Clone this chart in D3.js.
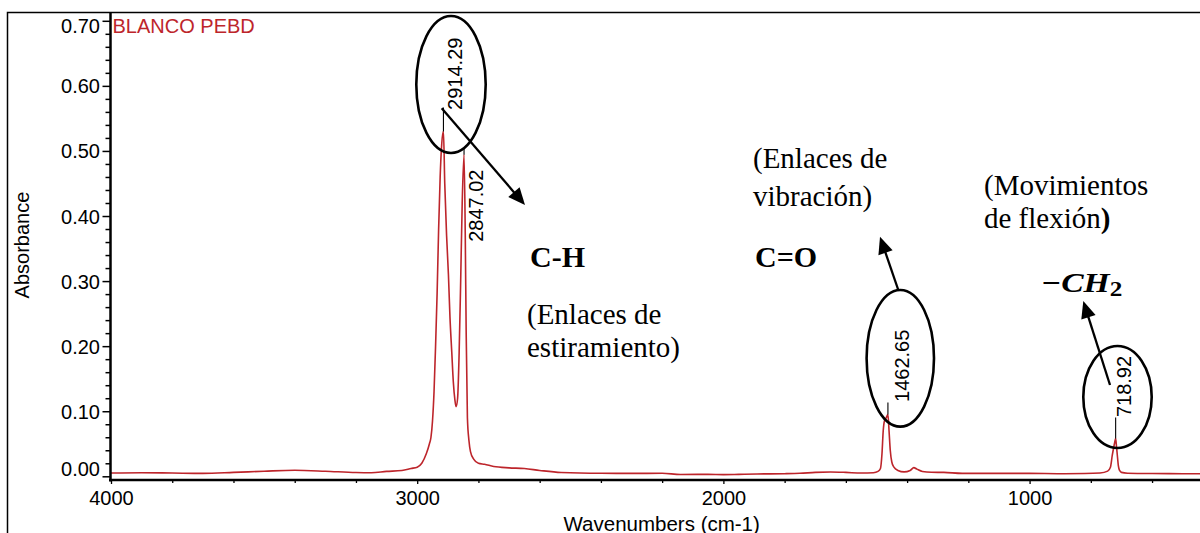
<!DOCTYPE html>
<html>
<head>
<meta charset="utf-8">
<script src="https://cdn.jsdelivr.net/npm/d3@7"></script>
<style>
  html, body { margin: 0; padding: 0; background: #fff; }
  svg { display: block; }
  .sans { font-family: "Liberation Sans", Arial, sans-serif; }
  .serif { font-family: "Liberation Serif", "Times New Roman", serif; }
</style>
</head>
<body>
<svg id="chart" width="1200" height="533"></svg>
<script>
// FT-IR absorbance spectrum of a low-density polyethylene blank (PEBD)

// Wavenumbers (cm-1), descending, and absorbance read at each of them
const wavenumbers = [
  4000, 3900, 3800, 3700, 3600, 3500, 3400, 3300, 3200, 3150, 3100, 3050, 3020, 3000,
  2985, 2970, 2960, 2955, 2950, 2945, 2940, 2935, 2930, 2925, 2920, 2914.29, 2910,
  2904, 2898, 2893, 2887, 2882, 2877, 2873, 2868, 2863, 2858, 2853, 2847.02, 2843,
  2840, 2836, 2831, 2826, 2815, 2800, 2780, 2750, 2700, 2650, 2600, 2530, 2400, 2300,
  2200, 2140, 2050, 2000, 1950, 1890, 1800, 1750, 1700, 1650, 1600, 1550, 1510, 1495,
  1487, 1482, 1478, 1474, 1468, 1462.65, 1459, 1455, 1450, 1443, 1430, 1410, 1390,
  1378, 1368, 1350, 1320, 1280, 1220, 1150, 1080, 1000, 900, 820, 770, 745, 736, 730,
  725, 722, 718.92, 716, 713, 710, 706, 700, 680, 600, 500, 400
];
const absorbance = [
  0.0050, 0.0055, 0.0050, 0.0045, 0.0060, 0.0078, 0.0092, 0.0078, 0.0058, 0.0055, 0.0075, 0.0090, 0.0120, 0.0140,
  0.020, 0.035, 0.050, 0.060, 0.085, 0.130, 0.200, 0.280, 0.380, 0.460, 0.510, 0.530, 0.450,
  0.370, 0.310, 0.245, 0.190, 0.145, 0.118, 0.107, 0.120, 0.190, 0.300, 0.420, 0.494, 0.370,
  0.220, 0.090, 0.055, 0.038, 0.026, 0.020, 0.0185, 0.0150, 0.0130, 0.0120, 0.0090, 0.0058, 0.0046, 0.0045,
  0.0046, 0.0028, 0.0030, 0.0026, 0.0030, 0.0036, 0.0040, 0.0046, 0.0060, 0.0066, 0.0060, 0.0050, 0.0055, 0.0075,
  0.012, 0.035, 0.070, 0.085, 0.090, 0.095, 0.070, 0.040, 0.022, 0.014, 0.009, 0.0068, 0.0090,
  0.0133, 0.0110, 0.0075, 0.0062, 0.0060, 0.0045, 0.0045, 0.0045, 0.0045, 0.0040, 0.0042, 0.0050, 0.0080, 0.0140, 0.0320,
  0.045, 0.052, 0.058, 0.045, 0.030, 0.016, 0.009, 0.006, 0.0048, 0.0042, 0.0040, 0.0040
];

// Labelled peaks
const peakPositions = [2914.29, 2847.02, 1462.65, 718.92];
const peakLabels = ["2914.29", "2847.02", "1462.65", "718.92"];

// Axis ticks
const xTickValues = [4000, 3000, 2000, 1000];
const xMinorTicks = [3800, 3600, 3400, 3200, 2800, 2600, 2400, 2200, 1800, 1600, 1400, 1200, 800, 600, 400];
const yTickValues = [0.00, 0.10, 0.20, 0.30, 0.40, 0.50, 0.60, 0.70];
const yMinorTicks = [0.02, 0.04, 0.06, 0.08, 0.12, 0.14, 0.16, 0.18, 0.22, 0.24, 0.26, 0.28,
                     0.32, 0.34, 0.36, 0.38, 0.42, 0.44, 0.46, 0.48, 0.52, 0.54, 0.56, 0.58,
                     0.62, 0.64, 0.66, 0.68];

const svg = d3.select("#chart");
const RED = "#bd252b";

const x = d3.scaleLinear().domain([4000, 400]).range([111, 1213.3]);
const y = d3.scaleLinear().domain([0, 0.7]).range([476.3, 20.8]);

const plotTop = 13, plotBottom = 480, plotLeft = 111;

// outer frame (runs past the right and bottom edges)
svg.append("rect")
  .attr("x", 7.5).attr("y", 12.5)
  .attr("width", 1300).attr("height", 600)
  .attr("fill", "none").attr("stroke", "#000").attr("stroke-width", 1.5);

// clip region for the spectrum
svg.append("defs").append("clipPath").attr("id", "plotClip")
  .append("rect").attr("x", plotLeft).attr("y", plotTop)
  .attr("width", 1200 - plotLeft).attr("height", plotBottom - plotTop);

// spectrum
const pts = wavenumbers.map((w, i) => [w, absorbance[i]]);
const line = d3.line().x(d => x(d[0])).y(d => y(d[1])).curve(d3.curveMonotoneX);
svg.append("path")
  .datum(pts)
  .attr("clip-path", "url(#plotClip)")
  .attr("d", line)
  .attr("fill", "none")
  .attr("stroke", RED)
  .attr("stroke-width", 1.6)
  .attr("stroke-linejoin", "round");

// y axis
const gyMinor = svg.append("g").attr("transform", "translate(110.5,0)")
  .call(d3.axisLeft(y).tickValues(yMinorTicks).tickSize(5).tickFormat(""));
const gy = svg.append("g").attr("transform", "translate(110.5,0)")
  .call(d3.axisLeft(y).tickValues(yTickValues).tickSize(8).tickPadding(2.5).tickFormat(d3.format(".2f")));
[gy, gyMinor].forEach(g => {
  g.select(".domain").remove();
  g.selectAll("line").attr("stroke", "#000").attr("stroke-width", 1.5);
});
gy.selectAll("text")
  .attr("class", "sans")
  .style("font-size", "20px")
  .attr("fill", "#000")
  .attr("dy", d => d === 0.7 ? "0.6em" : d === 0 ? "-0.05em" : "0.35em");

// x axis
const gxMinor = svg.append("g").attr("transform", `translate(0,${plotBottom})`)
  .call(d3.axisBottom(x).tickValues(xMinorTicks).tickSize(3).tickFormat(""));
const gx = svg.append("g").attr("transform", `translate(0,${plotBottom})`)
  .call(d3.axisBottom(x).tickValues(xTickValues).tickSize(4).tickPadding(7).tickFormat(d3.format("d")));
[gx, gxMinor].forEach(g => {
  g.select(".domain").remove();
  g.selectAll("line").attr("stroke", "#000").attr("stroke-width", 1.3);
});
gx.selectAll("text").attr("class", "sans").style("font-size", "20px").attr("fill", "#000");

// axis lines
svg.append("line").attr("x1", 110.5).attr("x2", 110.5).attr("y1", plotTop).attr("y2", plotBottom + 1.5)
  .attr("stroke", "#000").attr("stroke-width", 2.5);
svg.append("line").attr("x1", 109).attr("x2", 1200).attr("y1", plotBottom).attr("y2", plotBottom)
  .attr("stroke", "#000").attr("stroke-width", 2.5);

// axis titles and sample name
svg.append("text").attr("class", "sans")
  .attr("transform", "translate(28.5,245) rotate(-90)")
  .attr("text-anchor", "middle").style("font-size", "20px").text("Absorbance");
svg.append("text").attr("class", "sans")
  .attr("x", 661.7).attr("y", 530.5)
  .attr("text-anchor", "middle").style("font-size", "20.5px").text("Wavenumbers (cm-1)");
svg.append("text").attr("class", "sans")
  .attr("x", 112.5).attr("y", 32.5)
  .attr("fill", RED).style("font-size", "20px").text("BLANCO PEBD");

// peak markers and labels
const labelShift = [19, 19, 21.5, 15.5];   // horizontal offset of each label's baseline
const labelLift = [21.5, -87, 12.5, 21.5];  // gap between peak top and label start
const markLength = [24, 6, 12, 21];
peakPositions.forEach((p, i) => {
  const v = absorbance[wavenumbers.indexOf(p)];
  const px = x(p), py = y(v);
  svg.append("line")
    .attr("x1", px).attr("x2", px)
    .attr("y1", py).attr("y2", py - markLength[i])
    .attr("stroke", "#000").attr("stroke-width", 1.1);
  svg.append("text").attr("class", "sans")
    .attr("transform", `translate(${px + labelShift[i]},${py - labelLift[i]}) rotate(-90)`)
    .style("font-size", "20px").attr("fill", "#000")
    .text(peakLabels[i]);
});

// annotation ellipses
const ann = svg.append("g").attr("fill", "none").attr("stroke", "#000");
[[451, 84.5, 34.7, 68.5], [900.3, 358.3, 33.7, 68.3], [1117.5, 397, 34.2, 51]].forEach(e => {
  ann.append("ellipse").attr("cx", e[0]).attr("cy", e[1]).attr("rx", e[2]).attr("ry", e[3])
    .attr("stroke-width", 2.6);
});

// annotation arrows
function arrow(x1, y1, x2, y2) {
  const dx = x2 - x1, dy = y2 - y1, L = Math.hypot(dx, dy);
  const ux = dx / L, uy = dy / L, hl = 17, hw = 7.5;
  const bx = x2 - ux * hl, by = y2 - uy * hl;
  svg.append("line")
    .attr("x1", x1).attr("y1", y1).attr("x2", bx + ux * 2).attr("y2", by + uy * 2)
    .attr("stroke", "#000").attr("stroke-width", 2.3);
  svg.append("path")
    .attr("d", `M${x2},${y2}L${bx - uy * hw},${by + ux * hw}L${bx + uy * hw},${by - ux * hw}Z`)
    .attr("fill", "#000");
}
arrow(441.7, 108.3, 525, 205);
arrow(898.3, 290, 880, 236.7);
arrow(1110, 385, 1083.3, 301);

// band assignments
function serifText(xp, yp, str, size, weight) {
  return svg.append("text").attr("class", "serif")
    .attr("x", xp).attr("y", yp)
    .style("font-size", size + "px").style("font-weight", weight || "normal")
    .attr("fill", "#000").text(str);
}
serifText(530, 267, "C-H", 30, "bold");
serifText(527, 324, "(Enlaces de", 29);
serifText(527, 357, "estiramiento)", 29);
serifText(753, 168, "(Enlaces de", 29);
serifText(753, 206, "vibración)", 29);
serifText(755, 267, "C=O", 30, "bold");
serifText(984, 195, "(Movimientos", 29);
const flex = serifText(984, 228, "de flexión", 29);
flex.append("tspan").style("font-weight", "bold").text(")");

const ch2 = svg.append("text").attr("class", "serif")
  .attr("transform", "translate(1042,292) scale(1.2,1)")
  .attr("fill", "#000").style("font-size", "28px");
ch2.append("tspan").style("font-weight", "bold").text("\u2212");
ch2.append("tspan").style("font-weight", "bold").style("font-style", "italic").text("CH");
ch2.append("tspan").style("font-weight", "bold").style("font-size", "21px").attr("dy", 4).text("2");
</script>
</body>
</html>
